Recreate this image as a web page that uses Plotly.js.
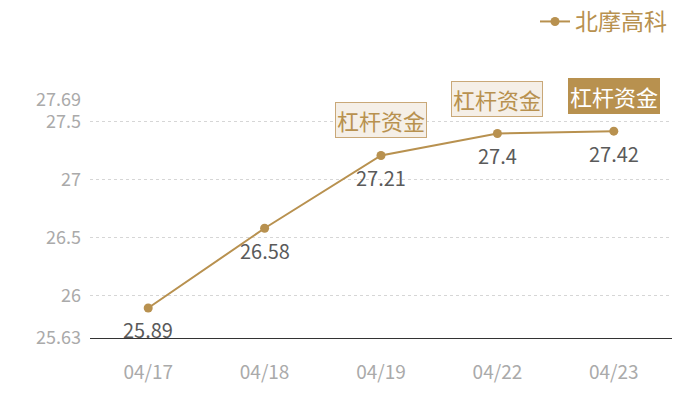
<!DOCTYPE html>
<html><head><meta charset="utf-8">
<script src="https://cdn.plot.ly/plotly-3.0.1.min.js"></script>
<style>html,body{margin:0;padding:0;background:#fff}#chart{width:700px;height:400px}</style>
</head><body><div id="chart"></div>
<script>
const categories = ["04/17", "04/18", "04/19", "04/22", "04/23"];
const values = [25.89, 26.58, 27.21, 27.4, 27.42];
const valueLabels = ["25.89", "26.58", "27.21", "27.4", "27.42"];
const seriesName = "北摩高科";
const yTicks = [25.63, 26, 26.5, 27, 27.5, 27.69];
const yTickLabels = ["25.63", "26", "26.5", "27", "27.5", "27.69"];
const tagText = "杠杆资金";
const tagIndices = [2, 3, 4];
const tagHighlight = [false, false, true];

const gold = "#b8914f";
const font = "Noto Sans CJK SC, Noto Sans, sans-serif";

const trace = {
  x: categories, y: values, type: "scatter", mode: "lines+markers",
  name: seriesName,
  line: {color: gold, width: 2},
  marker: {color: gold, size: 9},
  cliponaxis: false
};

const valueAnnotations = categories.map((c, i) => ({
  x: c, y: values[i], xref: "x", yref: "y",
  text: valueLabels[i], showarrow: false, yshift: -22,
  font: {family: font, size: 20, color: "#5a5a5a"}
}));

const tagAnnotations = tagIndices.map((i, k) => ({
  x: categories[i], y: values[i], xref: "x", yref: "y",
  text: tagText, showarrow: false, yshift: 35,
  font: {family: font, size: 22, color: tagHighlight[k] ? "#ffffff" : gold},
  bgcolor: tagHighlight[k] ? gold : "#f5efe7",
  bordercolor: tagHighlight[k] ? gold : "#c9a878",
  borderwidth: 1, borderpad: 1
}));

const layout = {
  width: 700, height: 400,
  margin: {l: 90, r: 28, t: 100, b: 62},
  paper_bgcolor: "#fff", plot_bgcolor: "#fff",
  font: {family: font},
  showlegend: true,
  legend: {x: 1, xanchor: "right", y: 1, yanchor: "top", yref: "container",
    font: {family: font, size: 23, color: gold}, itemwidth: 30, bgcolor: "rgba(0,0,0,0)"},
  xaxis: {type: "category", range: [-0.5, 4.5], showgrid: false, zeroline: false,
    showline: true, linecolor: "#333", linewidth: 1, ticks: "",
    tickfont: {family: font, size: 19, color: "#aaaaaa"}, ticklabelstandoff: 17, fixedrange: true},
  yaxis: {range: [25.63, 27.69], tickvals: yTicks, ticktext: yTickLabels,
    showgrid: true, gridcolor: "#d6d6d6", griddash: "dot", gridwidth: 1, zeroline: false,
    showline: false, ticks: "", tickfont: {family: font, size: 18, color: "#aaaaaa"},
    ticklabelstandoff: 8, fixedrange: true},
  annotations: valueAnnotations.concat(tagAnnotations)
};

Plotly.newPlot("chart", [trace], layout, {staticPlot: true, displayModeBar: false});
</script></body></html>
